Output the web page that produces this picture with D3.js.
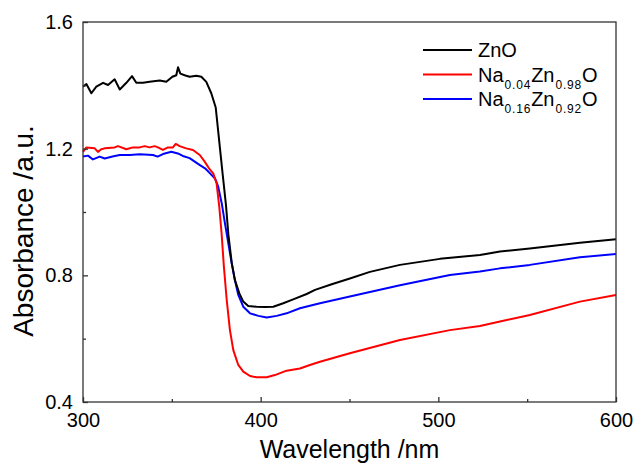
<!DOCTYPE html>
<html>
<head>
<meta charset="utf-8">
<script src="https://cdn.jsdelivr.net/npm/d3@7"></script>
<style>
  body { margin: 0; background: #fff; }
  svg text { font-family: Arial, "Liberation Sans", sans-serif; fill: #000; }
</style>
</head>
<body>
<svg id="chart" width="634" height="465"></svg>
<script>
// wavelength (nm) / absorbance (a.u.)
const znoWl = [300, 301.9, 304.7, 307.5, 311.3, 314.1, 317.8, 320.7, 324.4, 327.6, 330, 333.8, 337.5, 343.2, 346.9,
  350.3, 352.5, 353.5, 354.8, 357.2, 360, 363.8, 366.6, 369.4, 372.2, 374.7, 376, 377.3, 378.6, 380.5, 381.8,
  383.7, 385.5, 388, 390.2, 393, 397.7, 402.5, 407.1, 412.7, 418.3, 425.9, 430.6, 440, 450.2, 461.5, 478.4,
  500.9, 523.4, 534.7, 551.5, 579.7, 600];
const znoAbs = [1.396, 1.404, 1.375, 1.396, 1.408, 1.401, 1.419, 1.387, 1.408, 1.429, 1.408, 1.408, 1.411, 1.415, 1.411,
  1.427, 1.432, 1.457, 1.437, 1.432, 1.427, 1.430, 1.427, 1.411, 1.375, 1.33, 1.26, 1.19, 1.12, 1.02, 0.93,
  0.84, 0.785, 0.743, 0.717, 0.703, 0.701, 0.700, 0.701, 0.712, 0.724, 0.741, 0.754, 0.772, 0.79, 0.811, 0.833,
  0.852, 0.864, 0.875, 0.885, 0.903, 0.914];

const na04Wl = [300, 301.9, 306.6, 308.4, 310.3, 312.2, 317.8, 319.7, 324.4, 328.1, 331.9, 334.7, 337.5, 340.3, 342.2,
  345, 347.8, 350.6, 352.2, 354.4, 358.1, 361.9, 365.7, 368.5, 370.9, 373.3, 375.2, 376.7, 378, 379.3, 380.9,
  382.7, 384.6, 387.4, 390.2, 394, 397.7, 403.4, 408, 414.6, 422.1, 427.7, 433.4, 450.2, 478.4, 506.5, 523.4,
  534.7, 551.5, 579.7, 600];
const na04Abs = [1.19, 1.204, 1.201, 1.19, 1.198, 1.201, 1.204, 1.208, 1.198, 1.204, 1.204, 1.208, 1.204, 1.208, 1.204,
  1.196, 1.204, 1.204, 1.215, 1.208, 1.201, 1.196, 1.18, 1.159, 1.138, 1.122, 1.09, 1.017, 0.933, 0.827, 0.722,
  0.627, 0.564, 0.517, 0.496, 0.482, 0.478, 0.478, 0.485, 0.499, 0.506, 0.517, 0.527, 0.554, 0.596, 0.627, 0.640,
  0.654, 0.675, 0.717, 0.738];

const na16Wl = [300, 302.8, 305.6, 309.4, 312.2, 316.6, 320.7, 326.3, 331.9, 339.4, 342, 345, 349.7, 353.4, 356.2,
  360, 365.8, 368.7, 371.5, 374.3, 376.1, 378.1, 379.9, 381.8, 383.7, 385.5, 387.4, 390.2, 394, 398.7, 403.4,
  409, 414.6, 422.1, 427.7, 433.4, 450.2, 478.4, 506.5, 523.4, 534.7, 551.5, 579.7, 600];
const na16Abs = [1.175, 1.178, 1.166, 1.175, 1.169, 1.175, 1.18, 1.18, 1.182, 1.18, 1.175, 1.183, 1.19, 1.185, 1.177,
  1.17, 1.148, 1.138, 1.122, 1.106, 1.08, 1.027, 0.964, 0.901, 0.838, 0.785, 0.738, 0.701, 0.68, 0.672, 0.667,
  0.672, 0.68, 0.696, 0.704, 0.712, 0.733, 0.769, 0.801, 0.812, 0.822, 0.833, 0.857, 0.867];

const xTicks = [300, 400, 500, 600];
const xMinor = [350, 450, 550];
const yTicks = [0.4, 0.8, 1.2, 1.6];
const yMinor = [0.6, 1.0, 1.4];

const seriesNames = [
  [{ t: "ZnO" }],
  [{ t: "Na" }, { t: "0.04", sub: true }, { t: "Zn" }, { t: "0.98", sub: true }, { t: "O" }],
  [{ t: "Na" }, { t: "0.16", sub: true }, { t: "Zn" }, { t: "0.92", sub: true }, { t: "O" }]
];
const colors = ["#000000", "#ff0000", "#0000ff"];

const series = [
  znoWl.map((w, i) => ({ w: w, a: znoAbs[i] })),
  na04Wl.map((w, i) => ({ w: w, a: na04Abs[i] })),
  na16Wl.map((w, i) => ({ w: w, a: na16Abs[i] }))
];

const margin = { left: 83, right: 18, top: 22, bottom: 63 };
const W = 634, H = 465;
const iw = W - margin.left - margin.right;
const ih = H - margin.top - margin.bottom;

const svg = d3.select("#chart");
const g = svg.append("g").attr("transform", `translate(${margin.left},${margin.top})`);

const x = d3.scaleLinear().domain([300, 600]).range([0, iw]);
const y = d3.scaleLinear().domain([0.4, 1.6]).range([ih, 0]);

// curves (drawn first so the frame sits on top)
const line = d3.line().x(d => x(d.w)).y(d => y(d.a));
// draw order: blue under red under black like the original
[2, 1, 0].forEach(k => {
  g.append("path")
    .datum(series[k])
    .attr("fill", "none")
    .attr("stroke", colors[k])
    .attr("stroke-width", 2)
    .attr("stroke-linejoin", "round")
    .attr("d", line);
});

// axes, ticks pointing inward
g.append("g").attr("transform", `translate(0,${ih})`)
  .call(d3.axisBottom(x).tickValues(xTicks).tickSizeInner(-5).tickSizeOuter(0).tickPadding(11));
g.append("g").attr("transform", `translate(0,${ih})`)
  .call(d3.axisBottom(x).tickValues(xMinor).tickSizeInner(-3).tickSizeOuter(0).tickFormat(""));
g.append("g")
  .call(d3.axisLeft(y).tickValues(yTicks).tickSizeInner(-5).tickSizeOuter(0).tickPadding(10).tickFormat(d3.format(".1f")));
g.append("g")
  .call(d3.axisLeft(y).tickValues(yMinor).tickSizeInner(-3).tickSizeOuter(0).tickFormat(""));

g.selectAll(".domain").remove();
g.selectAll(".tick line").attr("stroke", "#333").attr("stroke-width", 1.3);
g.selectAll(".tick text").style("font-size", "20px").attr("fill", "#000");

// frame
g.append("rect")
  .attr("width", iw).attr("height", ih)
  .attr("fill", "none").attr("stroke", "#333").attr("stroke-width", 1.3);

// axis titles
svg.append("text")
  .attr("x", margin.left + iw / 2).attr("y", 458)
  .attr("text-anchor", "middle")
  .style("font-size", "25px")
  .text("Wavelength /nm");
svg.append("text")
  .attr("transform", "translate(33,231) rotate(-90)")
  .attr("text-anchor", "middle")
  .style("font-size", "28px")
  .text("Absorbance /a.u.");

// legend
const legend = svg.append("g").attr("transform", "translate(423,50)");
seriesNames.forEach((parts, i) => {
  const row = legend.append("g").attr("transform", `translate(0,${i * 24.5})`);
  row.append("line").attr("x1", 0).attr("x2", 49).attr("y1", 0).attr("y2", 0)
    .attr("stroke", colors[i]).attr("stroke-width", 2);
  const t = row.append("text").attr("x", 55).attr("y", 7).style("font-size", "20px");
  let shifted = false;
  parts.forEach(p => {
    const ts = t.append("tspan").text(p.t);
    if (p.sub) {
      ts.style("font-size", "12px").style("letter-spacing", "0.8px").attr("dx", 1).attr("dy", 7);
      shifted = true;
    } else if (shifted) {
      ts.attr("dy", -7);
      shifted = false;
    }
  });
});
</script>
</body>
</html>
